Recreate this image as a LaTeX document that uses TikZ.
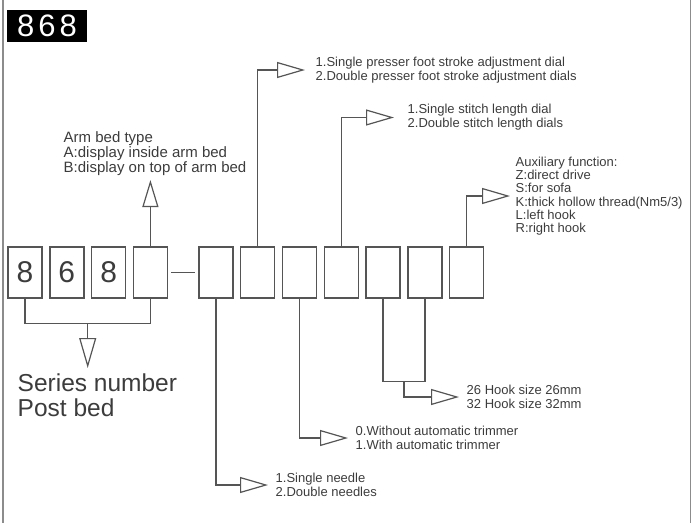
\documentclass[tikz,border=0pt]{standalone}
\usepackage{fontspec}
\setmainfont{Liberation Sans}
\usetikzlibrary{arrows.meta,positioning,calc}
\definecolor{ink}{RGB}{60,60,60}
\definecolor{linegray}{RGB}{85,85,85}

\begin{document}
\begin{tikzpicture}[x=1pt, y=-1pt, line width=1.4pt, color=linegray, text=ink,
                    >={Triangle[length=28pt, width=16pt, fill=white, line width=1.2pt]}]
    \tikzstyle{digit}=[draw, minimum width=34pt, minimum height=51pt, inner sep=0pt,
                       font=\fontsize{30}{30}\selectfont]
    \tikzstyle{note}=[anchor=west, inner sep=0pt, align=left,
                      font=\fontsize{13}{14}\selectfont]
    \tikzstyle{tip}=[->, shorten >=7pt]

    \useasboundingbox (0,0) rectangle (693,523);
    \draw[line width=1.5pt, black!45] (3,0) -- (3,523) (690.5,0) -- (690.5,523);

    \node[fill=black, text=white, minimum width=80pt, minimum height=32pt, inner sep=0pt,
          font=\fontsize{31}{31}\selectfont] (model) at (47,26) {8\kern4pt6\kern4pt8};

    % code boxes
    \node[digit]                       (b1) at (25,272.5) {8};
    \node[digit, right=6.4pt of b1]    (b2)               {6};
    \node[digit, right=6.4pt of b2]    (b3)               {8};
    \node[digit, right=6.4pt of b3]    (b4)               {};
    \node[digit, right=30.1pt of b4]   (b5)               {};
    \node[digit, right=6.4pt of b5]    (b6)               {};
    \node[digit, right=6.4pt of b6]    (b7)               {};
    \node[digit, right=6.4pt of b7]    (b8)               {};
    \node[digit, right=6.4pt of b8]    (b9)               {};
    \node[digit, right=6.4pt of b9]    (b10)              {};
    \node[digit, right=6.4pt of b10]   (b11)              {};
    \draw[shorten <=3pt, shorten >=3pt] (b4) -- (b5);

    % texts
    \node[note, anchor=south west, font=\fontsize{15}{15}\selectfont] (armbed) at (63,176)
        {Arm bed type\\A:display inside arm bed\\B:display on top of arm bed};
    \node[note] (presser) at (315,70)
        {1.Single presser foot stroke adjustment dial\\2.Double presser foot stroke adjustment dials};
    \node[note] (stitch)  at (407,117.5)
        {1.Single stitch length dial\\2.Double stitch length dials};
    \node[note, font=\fontsize{13}{13.3}\selectfont] (aux) at (515,196)
        {Auxiliary function:\\Z:direct drive\\S:for sofa\\K:thick hollow thread(Nm5/3)\\L:left hook\\R:right hook};
    \node[note] (hook)    at (466,397) {26 Hook size 26mm\\32 Hook size 32mm};
    \node[note] (trimmer) at (355,438) {0.Without automatic trimmer\\1.With automatic trimmer};
    \node[note] (needle)  at (275,485) {1.Single needle\\2.Double needles};
    \node[anchor=north west, inner sep=0pt, align=left,
          font=\fontsize{24.5}{25}\selectfont] (series) at (17,373) {Series number\\Post bed};

    % connectors
    \draw[tip, shorten >=4pt, >={Triangle[length=27pt, width=16pt, fill=white, line width=1.2pt]}]
        (b4.north) -- (b4.north |- armbed.south);
    \draw[tip, shorten >=10pt] (b6.north) |- (presser.west);
    \draw[tip, shorten >=13pt] (b8.north) |- (stitch.west);
    \draw[tip, shorten >=5pt]  (b11.north) |- (aux.west);

    \draw (b1.south) -- ++(0,25) -| (b4.south);
    \coordinate (sj) at ($(b1.south)!0.5!(b4.south)+(0,25)$);
    \draw[tip, shorten >=5pt, >={Triangle[length=30pt, width=17pt, fill=white, line width=1.2pt]}]
        (sj) -- (sj |- series.north);

    \draw (b9.south) -- ++(0,83) -| (b10.south);
    \coordinate (hj) at ($(b9.south)!0.5!(b10.south)+(0,83)$);
    \draw[tip] (hj) |- (hook.west);
    \draw[tip] (b7.south) |- (trimmer.west);
    \draw[tip] (b5.south) |- (needle.west);
\end{tikzpicture}
\end{document}
